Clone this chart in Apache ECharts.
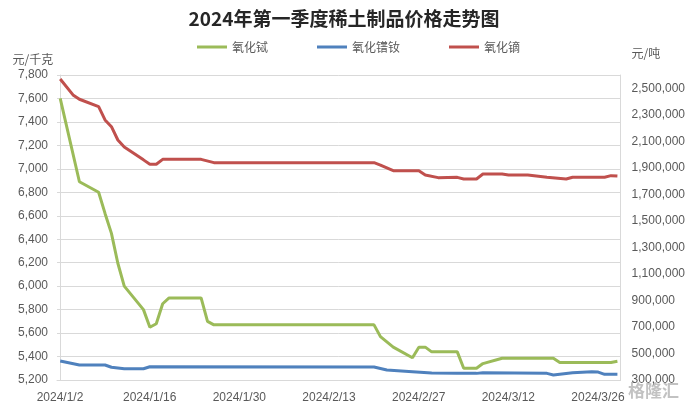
<!DOCTYPE html>
<html>
<head>
<meta charset="utf-8">
<script src="https://cdn.jsdelivr.net/npm/echarts@6/dist/echarts.min.js"></script>
<style>
html,body{margin:0;padding:0;background:#fff;}
#chart{width:688px;height:408px;}
</style>
</head>
<body>
<div id="chart"></div>
<script>
// ---- data ----
const titleText = '2024年第一季度稀土制品价格走势图';
const seriesNames = ['氧化铽', '氧化镨钕', '氧化镝'];
const leftAxisName = '元/千克';
const rightAxisName = '元/吨';
const startDate = '2024/1/2';

// 氧化铽 (left axis, 元/千克)
const terbiumDates = ['2024/1/2','2024/1/5','2024/1/8','2024/1/9','2024/1/10','2024/1/11','2024/1/12','2024/1/15','2024/1/16','2024/1/17','2024/1/18','2024/1/19','2024/1/24','2024/1/25','2024/1/26','2024/2/20','2024/2/21','2024/2/23','2024/2/26','2024/2/27','2024/2/28','2024/2/29','2024/3/4','2024/3/5','2024/3/7','2024/3/8','2024/3/11','2024/3/19','2024/3/20','2024/3/28','2024/3/29'];
const terbiumValues = [7600,6890,6800,6620,6450,6195,6000,5800,5650,5680,5850,5900,5900,5700,5670,5670,5570,5480,5390,5480,5480,5440,5440,5300,5300,5340,5385,5385,5350,5350,5360];

// 氧化镨钕 (right axis, 元/吨)
const prndDates = ['2024/1/2','2024/1/5','2024/1/9','2024/1/10','2024/1/12','2024/1/15','2024/1/16','2024/2/20','2024/2/22','2024/2/26','2024/2/29','2024/3/4','2024/3/7','2024/3/8','2024/3/18','2024/3/19','2024/3/22','2024/3/25','2024/3/26','2024/3/27','2024/3/29'];
const prndValues = [443000,413000,413000,396000,385000,385000,400000,398000,375000,363000,352000,350000,350000,355000,350000,338000,355000,363000,360000,343000,343000];

// 氧化镝 (right axis, 元/吨)
const dyDates = ['2024/1/2','2024/1/4','2024/1/5','2024/1/8','2024/1/9','2024/1/10','2024/1/11','2024/1/12','2024/1/15','2024/1/16','2024/1/17','2024/1/18','2024/1/24','2024/1/26','2024/2/20','2024/2/21','2024/2/23','2024/2/27','2024/2/28','2024/3/1','2024/3/4','2024/3/5','2024/3/7','2024/3/8','2024/3/11','2024/3/12','2024/3/15','2024/3/18','2024/3/21','2024/3/22','2024/3/27','2024/3/28','2024/3/29'];
const dyValues = [2570000,2450000,2417000,2361000,2261000,2210000,2110000,2057000,1960000,1927000,1927000,1964000,1964000,1939000,1939000,1921000,1878000,1878000,1846000,1826000,1828000,1816000,1816000,1853000,1853000,1846000,1846000,1829000,1816000,1829000,1829000,1841000,1838000];

// axis ranges
const leftMin = 5200, leftMax = 7800, leftStep = 200;
const rightMin = 300000, rightMax = 2600000, rightStep = 200000;
const xLabelStepDays = 14;
const xLastDay = 87;

// ---- helpers ----
const DAY = 86400000;
function toUTC(s){ const p = s.split('/').map(Number); return Date.UTC(p[0], p[1]-1, p[2]); }
const t0 = toUTC(startDate);
function dayOffset(s){ return Math.round((toUTC(s) - t0) / DAY); }
function pairs(dates, vals){ return dates.map((d,i)=>[dayOffset(d), vals[i]]); }
function fmtDay(v){
  const d = new Date(t0 + v*DAY);
  return d.getUTCFullYear() + '/' + (d.getUTCMonth()+1) + '/' + d.getUTCDate();
}
function comma(v){ return String(v).replace(/\B(?=(\d{3})+(?!\d))/g, ','); }
// x axis runs half a day beyond the first/last date (date axis "between" style);
// ticks are counted from min, so shift back by half a day to get the date
function xLabel(v){
  const day = Math.round((v + 0.5) * 2) / 2;
  return (Number.isInteger(day) && day >= 0 && day <= xLastDay && day % xLabelStepDays === 0) ? fmtDay(day) : '';
}

const colors = ['#9bbb59', '#4f81bd', '#c0504d'];
const labelFont = {color:'#595959', fontSize:12, fontFamily:'Liberation Sans, Arial, sans-serif'};
const cjkFont = 'Noto Sans CJK SC, sans-serif';

const chart = echarts.init(document.getElementById('chart'), null, {renderer:'canvas'});
chart.setOption({
  backgroundColor:'#fff',
  animation:false,
  color: colors,
  title:{
    text:titleText, left:'center', top:4,
    textStyle:{fontSize:19, fontWeight:'bold', color:'#262626', fontFamily:cjkFont}
  },
  legend:{
    data:seriesNames, left:192, top:36, itemWidth:30, itemHeight:3, itemGap:49, icon:'rect',
    textStyle:{fontSize:12, color:'#595959', fontFamily:cjkFont}
  },
  grid:{left:57, right:66, top:75, bottom:28, containLabel:false},
  xAxis:{
    type:'value', min:-0.5, max:xLastDay+0.5, interval:xLabelStepDays,
    axisLine:{show:true, lineStyle:{color:'#d9d9d9'}},
    axisTick:{show:false},
    splitLine:{show:false},
    axisLabel:Object.assign({margin:12, showMinLabel:true, showMaxLabel:true, padding:[0,0,0,6],
      formatter:xLabel}, labelFont)
  },
  yAxis:[
    {
      type:'value', min:leftMin, max:leftMax, interval:leftStep, position:'left',
      name:leftAxisName, nameLocation:'end', nameGap:10,
      nameTextStyle:{color:'#595959', fontSize:12, fontFamily:cjkFont, align:'right', padding:[0,7,0,0]},
      axisLine:{show:true, lineStyle:{color:'#d9d9d9'}},
      axisTick:{show:false},
      splitLine:{show:true, lineStyle:{color:'#d9d9d9', width:1}},
      axisLabel:Object.assign({margin:9, formatter:v => comma(v)}, labelFont)
    },
    {
      type:'value', min:rightMin, max:rightMax, interval:rightStep/2, position:'right',
      name:rightAxisName, nameLocation:'end', nameGap:16,
      nameTextStyle:{color:'#595959', fontSize:12, fontFamily:cjkFont, align:'left', padding:[0,0,0,11]},
      axisLine:{show:true, lineStyle:{color:'#d9d9d9'}},
      axisTick:{show:false},
      splitLine:{show:false},
      axisLabel:Object.assign({margin:11,
        formatter:v => ((v - rightMin) % rightStep === 0 && v <= rightMax - rightStep/2) ? comma(v) : ''}, labelFont)
    }
  ],
  series:[
    {name:seriesNames[0], type:'line', yAxisIndex:0, symbol:'none', data:pairs(terbiumDates, terbiumValues),
      lineStyle:{width:3, color:colors[0]}, itemStyle:{color:colors[0]}},
    {name:seriesNames[1], type:'line', yAxisIndex:1, symbol:'none', data:pairs(prndDates, prndValues),
      lineStyle:{width:3, color:colors[1]}, itemStyle:{color:colors[1]}},
    {name:seriesNames[2], type:'line', yAxisIndex:1, symbol:'none', data:pairs(dyDates, dyValues),
      lineStyle:{width:3, color:colors[2]}, itemStyle:{color:colors[2]}}
  ],
  graphic:[
    {type:'text', left:628, top:382, style:{text:'格隆汇', fill:'rgba(120,120,120,0.45)', font:'bold 17px Noto Sans CJK SC'}}
  ]
});
</script>
</body>
</html>
